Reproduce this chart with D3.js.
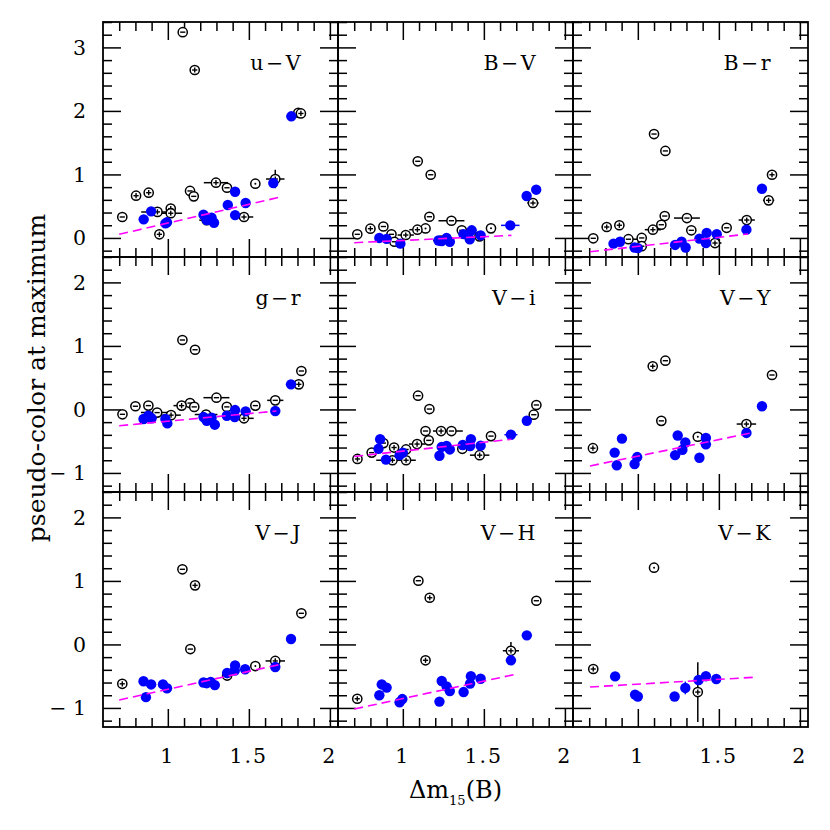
<!DOCTYPE html>
<html><head><meta charset="utf-8">
<script src="https://cdn.jsdelivr.net/npm/d3@7"></script>
<style>body{margin:0;background:#fff}</style>
</head><body><svg id="c" width="830" height="830"></svg>
<script>
// ---------- DATA ----------
const panelNames = ["u−V","B−V","B−r","g−r","V−i","V−Y","V−J","V−H","V−K"];
const xTickLabels = ["1","1.5","2"];
const xMajor = [1, 1.5, 2];
const xMinor = [0.7,0.8,0.9,1.1,1.2,1.3,1.4,1.6,1.7,1.8,1.9];
const yMajorTop = [0,1,2,3];
const yMajorRest = [-1,0,1,2];
const yTickLabelsTop = ["0","1","2","3"];
const yTickLabelsRest = ["− 1","0","1","2"];
const xDomain = [0.6, 2.05];
const yDomainTop = [-0.3, 3.4];
const yDomainRest = [-1.3, 2.4];

// open symbols: [x, y, type (p=plus, m=minus, d=dot), xerr, yerr]
const uV_open = [[1.092,3.24,'m'],[1.166,2.644,'p'],[1.805,1.97,'p'],[1.821,1.96,'p'],[1.663,0.928,'p',0.057,0.145],[1.54,0.854,'d'],[1.297,0.87,'p',0.075],[1.365,0.79,'m'],[0.882,0.712,'p'],[0.804,0.665,'p',0.03],[1.137,0.74,'m'],[1.16,0.655,'m'],[0.719,0.33,'m'],[0.936,0.41,'p',0.1],[1.018,0.462,'p'],[1.018,0.389,'p',0.07],[0.948,0.057,'p'],[1.24,0.28,'m',0.046],[1.47,0.33,'p',0.057]];
const uV_blue = [[1.762,1.915],[1.651,0.865],[1.415,0.728],[1.37,0.518],[1.48,0.55],[0.897,0.419],[0.851,0.293],[0.985,0.23],[0.995,0.246],[1.22,0.366],[1.27,0.32],[1.24,0.28],[1.285,0.24],[1.415,0.36]];
const uV_fit = [[0.70,0.057],[1.703,0.649]];

const BV_open = [[1.092,1.207,'m'],[1.172,0.995,'m'],[1.803,0.55,'p',0.035],[1.544,0.151,'d'],[1.30,0.271,'m',0.08],[1.164,0.334,'m'],[1.14,0.15,'d'],[1.09,0.13,'p',0.05],[0.719,0.057,'m'],[0.80,0.146,'p',0.03],[0.88,0.18,'m'],[0.93,0.057,'m'],[0.948,-0.06,'m'],[1.018,0.046,'p',0.05],[1.364,0.12,'m'],[1.473,0.025,'m'],[1.236,-0.04,'m',0.05]];
const BV_blue = [[1.764,0.66],[1.823,0.76],[1.663,0.198,0.057],[0.855,0.0],[0.9,-0.015],[0.985,-0.09],[1.22,-0.04],[1.24,-0.05],[1.27,0.0],[1.29,-0.06],[1.374,0.06],[1.425,0.12],[1.413,-0.02],[1.48,0.04]];
const BV_fit = [[0.70,-0.075],[1.67,0.04]];

const Br_open = [[1.10,1.636,'m'],[1.17,1.37,'m'],[1.828,0.995,'p'],[1.807,0.592,'p',0.035],[1.672,0.282,'p',0.05],[1.548,0.16,'m'],[1.303,0.313,'m',0.08],[1.166,0.345,'m'],[1.145,0.208,'m'],[1.093,0.13,'p',0.05],[1.33,0.12,'m'],[0.725,-0.006,'m'],[0.808,0.172,'p',0.03],[0.886,0.2,'p'],[0.942,-0.02,'m',0.06],[1.024,0.0,'m'],[1.024,-0.13,'m'],[1.476,-0.08,'p',0.04]];
const Br_blue = [[1.766,0.775],[1.67,0.13],[0.85,-0.09],[0.89,-0.06],[0.98,-0.15],[1.0,-0.16],[1.23,-0.11],[1.27,-0.06],[1.295,-0.15],[1.38,-0.01],[1.42,-0.08],[1.425,0.08],[1.487,0.06]];
const Br_fit = [[0.705,-0.217],[1.68,0.062]];

const gr_open = [[1.09,1.093,'m'],[1.168,0.94,'m'],[1.824,0.605,'m'],[1.808,0.395,'p',0.03],[1.663,0.143,'m',0.05],[1.54,0.06,'m'],[1.3,0.185,'m',0.08],[1.137,0.1,'m'],[1.163,0.04,'m'],[1.085,0.06,'p',0.05],[1.364,0.04,'m'],[1.47,-0.14,'p',0.06],[0.72,-0.077,'m'],[0.8,0.05,'m',0.03],[0.88,0.06,'m'],[0.934,-0.05,'m',0.1],[1.02,-0.09,'p',0.06],[1.236,-0.08,'m',0.07]];
const gr_blue = [[1.76,0.395],[1.663,-0.025],[1.364,-0.1],[1.415,-0.01],[1.413,-0.12],[1.48,-0.03],[0.85,-0.15],[0.88,-0.1],[0.9,-0.14],[0.985,-0.15],[0.997,-0.22],[1.22,-0.12],[1.24,-0.18],[1.27,-0.13],[1.29,-0.24]];
const gr_fit = [[0.70,-0.257],[1.67,-0.025]];

const Vi_open = [[1.094,0.216,'m'],[1.164,0.006,'m'],[1.824,0.07,'m'],[1.808,-0.083,'m',0.03],[1.544,-0.42,'m'],[1.14,-0.34,'m'],[1.236,-0.34,'p',0.05],[1.30,-0.34,'m',0.07],[1.16,-0.487,'m'],[1.088,-0.545,'p',0.05],[1.367,-0.62,'m'],[1.474,-0.72,'p',0.06],[0.72,-0.78,'p'],[0.808,-0.68,'m',0.03],[0.88,-0.53,'m'],[0.946,-0.6,'p'],[1.02,-0.63,'m'],[0.936,-0.8,'p',0.1],[1.02,-0.8,'p',0.06]];
const Vi_blue = [[1.765,-0.178],[1.667,-0.398,0.04],[1.226,-0.73],[1.24,-0.59],[1.27,-0.575],[1.29,-0.63],[1.37,-0.56],[1.42,-0.47],[1.415,-0.575],[1.48,-0.57],[0.86,-0.47],[0.85,-0.62],[0.896,-0.79],[0.98,-0.72],[1.0,-0.68]];
const Vi_fit = [[0.70,-0.74],[1.67,-0.47]];

const VY_open = [[1.092,0.68,'p'],[1.17,0.767,'m'],[1.828,0.542,'m'],[1.145,-0.18,'m'],[1.67,-0.23,'p',0.06],[1.37,-0.43,'d'],[0.723,-0.61,'p']];
const VY_blue = [[1.766,0.05],[1.67,-0.37],[1.246,-0.41],[1.293,-0.52],[1.275,-0.635],[1.23,-0.72],[1.42,-0.45],[1.42,-0.55],[1.38,-0.76],[0.902,-0.46],[0.857,-0.68],[0.87,-0.88],[0.98,-0.86],[0.996,-0.75]];
const VY_fit = [[0.705,-0.89],[1.705,-0.367]];

const VJ_open = [[1.09,1.183,'m'],[1.168,0.93,'p'],[1.824,0.49,'m'],[1.139,-0.073,'m'],[1.663,-0.26,'p',0.06,0.05],[1.54,-0.34,'d'],[1.366,-0.49,'p'],[0.719,-0.62,'p']];
const VJ_blue = [[1.76,0.085],[1.663,-0.355],[1.477,-0.39],[1.415,-0.33],[1.413,-0.41],[1.366,-0.45],[1.22,-0.6],[1.24,-0.61],[1.265,-0.59],[1.29,-0.64],[0.85,-0.58],[0.897,-0.63],[0.865,-0.83],[0.97,-0.63],[0.995,-0.69]];
const VJ_fit = [[0.70,-0.875],[1.703,-0.31]];

const VH_open = [[1.096,1.003,'m'],[1.166,0.735,'p'],[1.824,0.688,'m'],[1.667,-0.1,'p',0.05,0.14],[1.14,-0.25,'p'],[0.719,-0.855,'p']];
const VH_blue = [[1.765,0.143],[1.667,-0.25,0.03,0.06],[1.48,-0.54],[1.42,-0.5],[1.415,-0.617],[1.375,-0.75],[1.29,-0.735],[1.27,-0.66],[1.24,-0.575],[1.226,-0.9],[0.855,-0.8],[0.87,-0.63],[0.9,-0.68],[0.98,-0.91],[0.997,-0.86]];
const VH_fit = [[0.70,-1.017],[1.703,-0.466]];

const VK_open = [[1.1,1.208,'d'],[0.725,-0.387,'p'],[1.37,-0.75,'p',0,0.47]];
const VK_blue = [[0.86,-0.503],[0.983,-0.79],[1.0,-0.82],[1.227,-0.82],[1.293,-0.685,0,0.1],[1.375,-0.56],[1.42,-0.5],[1.484,-0.545]];
const VK_fit = [[0.705,-0.67],[1.711,-0.518]];

// ---------- DRAW ----------
const opens = [uV_open,BV_open,Br_open,gr_open,Vi_open,VY_open,VJ_open,VH_open,VK_open];
const blues = [uV_blue,BV_blue,Br_blue,gr_blue,Vi_blue,VY_blue,VJ_blue,VH_blue,VK_blue];
const fits = [uV_fit,BV_fit,Br_fit,gr_fit,Vi_fit,VY_fit,VJ_fit,VH_fit,VK_fit];

const svg = d3.select("#c");
const X0 = 103, Y0 = 22, PW = 235, PH = 235;
const FONT = "DejaVu Serif";
const R_OPEN = 4.6, R_BLUE = 5.2;

panelNames.forEach((name, i) => {
  const c = i % 3, r = Math.floor(i / 3);
  const g = svg.append("g").attr("transform", `translate(${X0 + c*PW},${Y0 + r*PH})`);
  const x = d3.scaleLinear().domain(xDomain).range([0, PW]);
  const y = d3.scaleLinear().domain(r === 0 ? yDomainTop : yDomainRest).range([PH, 0]);
  const yMajor = r === 0 ? yMajorTop : yMajorRest;
  const yMinor = d3.range(Math.ceil(y.domain()[0]/0.2 - 1e-9), Math.floor(y.domain()[1]/0.2 + 1e-9) + 1)
      .map(k => +(k*0.2).toFixed(2)).filter(v => Math.abs(v - Math.round(v)) > 1e-6);

  const styleAxis = s => { s.select(".domain").remove(); s.selectAll("line").attr("stroke","#000").attr("stroke-width",1.5); };
  [[xMinor,9],[xMajor,18]].forEach(([tv,len]) => {
    g.append("g").attr("transform",`translate(0,${PH})`).call(d3.axisBottom(x).tickValues(tv).tickSize(-len).tickFormat("")).call(styleAxis);
    g.append("g").call(d3.axisTop(x).tickValues(tv).tickSize(-len).tickFormat("")).call(styleAxis);
  });
  [[yMinor,9],[yMajor,18]].forEach(([tv,len]) => {
    g.append("g").call(d3.axisLeft(y).tickValues(tv).tickSize(-len).tickFormat("")).call(styleAxis);
    g.append("g").attr("transform",`translate(${PW},0)`).call(d3.axisRight(y).tickValues(tv).tickSize(-len).tickFormat("")).call(styleAxis);
  });
  g.append("rect").attr("width",PW).attr("height",PH).attr("fill","none").attr("stroke","#000").attr("stroke-width",1.8);

  if (r === 2) {
    g.selectAll(".xl").data(xMajor).enter().append("text")
      .attr("x", d => x(d)).attr("y", PH + 36).attr("text-anchor","middle")
      .attr("font-family",FONT).attr("font-size",20.5).attr("letter-spacing",2).text((d,k) => xTickLabels[k]);
  }
  if (c === 0) {
    const labs = r === 0 ? yTickLabelsTop : yTickLabelsRest;
    g.selectAll(".yl").data(yMajor).enter().append("text")
      .attr("x", -17).attr("y", d => y(d) + 7.5).attr("text-anchor","end")
      .attr("font-family",FONT).attr("font-size",20.5).text((d,k) => labs[k]);
  }

  g.append("text").attr("x", PW - 35).attr("y", 48).attr("text-anchor","end")
    .attr("font-family",FONT).attr("font-size",20.5).attr("letter-spacing",2.5).text(name);

  const open = opens[i], blue = blues[i];
  const errs = [];
  open.forEach(d => { if (d[3]) errs.push({x1:d[0]-d[3],x2:d[0]+d[3],y1:d[1],y2:d[1]}); if (d[4]) errs.push({x1:d[0],x2:d[0],y1:d[1]-d[4],y2:d[1]+d[4]}); });
  blue.forEach(d => { if (d[2]) errs.push({x1:d[0]-d[2],x2:d[0]+d[2],y1:d[1],y2:d[1],b:1}); if (d[3]) errs.push({x1:d[0],x2:d[0],y1:d[1]-d[3],y2:d[1]+d[3],b:1}); });
  g.selectAll(".err").data(errs).enter().append("line")
    .attr("x1",d=>x(d.x1)).attr("x2",d=>x(d.x2)).attr("y1",d=>y(d.y1)).attr("y2",d=>y(d.y2))
    .attr("stroke", d => d.b ? "#0000ff" : "#000").attr("stroke-width",1.5);

  const og = g.selectAll(".open").data(open).enter().append("g")
    .attr("transform", d => `translate(${x(d[0])},${y(d[1])})`);
  og.append("circle").attr("r",R_OPEN).attr("fill","#fff").attr("stroke","#000").attr("stroke-width",1.5);
  og.filter(d => d[2] !== 'd').append("line").attr("x1",-2.6).attr("x2",2.6).attr("stroke","#000").attr("stroke-width",1.4);
  og.filter(d => d[2] === 'p').append("line").attr("y1",-2.6).attr("y2",2.6).attr("stroke","#000").attr("stroke-width",1.4);
  og.filter(d => d[2] === 'd').append("circle").attr("r",1).attr("fill","#000");

  g.selectAll(".blue").data(blue).enter().append("circle")
    .attr("cx", d => x(d[0])).attr("cy", d => y(d[1])).attr("r",R_BLUE).attr("fill","#0000ff");

  g.append("path").datum(fits[i]).attr("d", d3.line().x(d=>x(d[0])).y(d=>y(d[1])))
    .attr("stroke","#ff00ff").attr("stroke-width",1.6).attr("stroke-dasharray","9,5").attr("fill","none");
});

const xt = svg.append("text").attr("x", X0 + 1.5*PW).attr("y", 798).attr("text-anchor","middle")
  .attr("font-family",FONT).attr("font-size",24);
xt.append("tspan").text("Δm");
xt.append("tspan").attr("font-size",13).attr("dy",7).text("15");
xt.append("tspan").attr("dy",-7).text("(B)");

svg.append("text").attr("transform",`translate(45,378) rotate(-90)`).attr("text-anchor","middle")
  .attr("font-family",FONT).attr("font-size",25).text("pseudo-color at maximum");
</script></body></html>
